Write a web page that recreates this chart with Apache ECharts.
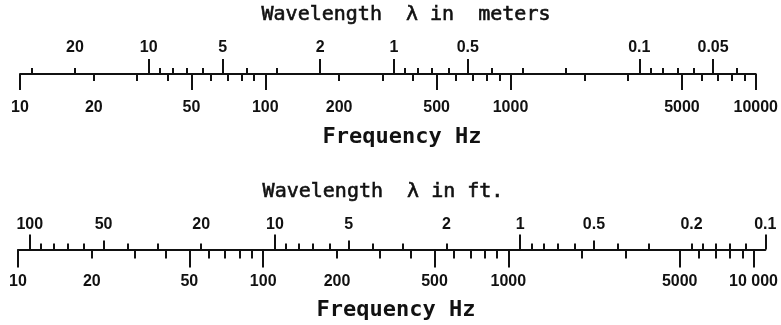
<!DOCTYPE html>
<html>
<head>
<meta charset="utf-8">
<script src="https://cdn.jsdelivr.net/npm/echarts@6/dist/echarts.min.js"></script>
<style>
  html, body { margin: 0; padding: 0; background: #fff; }
  #chart { width: 781px; height: 325px; }
</style>
</head>
<body>
<div id="chart"></div>
<script>
// Speed of sound used to convert frequency to wavelength
const SOUND_SPEED_M = 335;   // m/s
const SOUND_SPEED_FT = 1117; // ft/s

// Frequency scale in Hz (shared by both rulers)
const freqMin = 10;
const freqMaxMeters = 10000;
const freqMajorTicks = [10, 50, 100, 500, 1000, 5000, 10000];
const freqMinorTicks = [20, 30, 40, 60, 70, 80, 90, 200, 300, 400, 600, 700, 800, 900,
                        2000, 3000, 6000, 7000, 8000, 9000];
const freqLabelValues = [10, 20, 50, 100, 200, 500, 1000, 5000, 10000];
const freqLabelsMeters = ['10', '20', '50', '100', '200', '500', '1000', '5000', '10000'];
const freqLabelsFeet = ['10', '20', '50', '100', '200', '500', '1000', '5000', '10 000'];

// Wavelength in meters
const meterMajorTicks = [10, 5, 2, 1, 0.5, 0.1, 0.05];
const meterMinorTicks = [30, 20, 9, 8, 7, 6, 4, 3, 0.9, 0.8, 0.7, 0.6, 0.4, 0.3, 0.2,
                         0.09, 0.08, 0.07, 0.06, 0.04];
const meterLabels = [20, 10, 5, 2, 1, 0.5, 0.1, 0.05];

// Wavelength in feet
const feetTallTicks = [100, 10, 1, 0.1];
const feetMidTicks = [50, 5, 0.5];
const feetMinorTicks = [90, 80, 70, 60, 40, 30, 20, 9, 8, 7, 6, 4, 3, 2,
                        0.9, 0.8, 0.7, 0.6, 0.4, 0.3, 0.2, 0.18, 0.16, 0.14, 0.12];
const feetLabels = [100, 50, 20, 10, 5, 2, 1, 0.5, 0.2, 0.1];

// The feet ruler runs from 10 Hz up to the 0.1 ft wavelength
const freqMaxFeet = SOUND_SPEED_FT / 0.1;

const INK = '#111';
const LABEL_FONT = '"Liberation Sans", Arial, sans-serif';
const TITLE_FONT = '"DejaVu Sans Mono", monospace';

function lookup(values, texts) {
  return function (v) {
    for (let i = 0; i < values.length; i++) {
      if (Math.abs(v - values[i]) <= values[i] * 1e-6) return texts[i];
    }
    return '';
  };
}

// One logarithmic axis layer; all layers of a ruler share the bottom edge of its grid
function layer(grid, min, max, inverse, tick, label, line) {
  return {
    type: 'log', logBase: 10, gridIndex: grid, min: min, max: max, inverse: inverse,
    position: 'bottom',
    axisLine: { show: !!line, onZero: false, lineStyle: { color: INK, width: 2 } },
    axisTick: tick ? {
      show: true, inside: !!tick.inside, length: tick.length, customValues: tick.values,
      lineStyle: { color: INK, width: 2 }
    } : { show: false },
    axisLabel: label ? {
      show: true, inside: !!label.inside, margin: label.margin, customValues: label.values,
      formatter: lookup(label.values, label.texts),
      fontFamily: LABEL_FONT, fontSize: 16, fontWeight: 'bold', color: INK
    } : { show: false },
    splitLine: { show: false },
    minorTick: { show: false }
  };
}

const mMin = SOUND_SPEED_M / freqMaxMeters, mMax = SOUND_SPEED_M / freqMin;
const fMin = SOUND_SPEED_FT / freqMaxFeet, fMax = SOUND_SPEED_FT / freqMin;

const xAxes = [
  // meters ruler
  layer(0, freqMin, freqMaxMeters, false,
        { values: freqMajorTicks, length: 16 },
        { values: freqLabelValues, texts: freqLabelsMeters, margin: 26 }, true),
  layer(0, freqMin, freqMaxMeters, false, { values: freqMinorTicks, length: 7 }),
  layer(0, mMin, mMax, true,
        { values: meterMajorTicks, length: 15, inside: true },
        { values: meterLabels, texts: meterLabels.map(String), margin: 18, inside: true }),
  layer(0, mMin, mMax, true, { values: meterMinorTicks, length: 6, inside: true }),
  // feet ruler
  layer(1, freqMin, freqMaxFeet, false,
        { values: freqMajorTicks, length: 18 },
        { values: freqLabelValues, texts: freqLabelsFeet, margin: 24 }, true),
  layer(1, freqMin, freqMaxFeet, false, { values: freqMinorTicks, length: 9 }),
  layer(1, fMin, fMax, true,
        { values: feetTallTicks, length: 15, inside: true },
        { values: feetLabels, texts: feetLabels.map(String), margin: 17, inside: true }),
  layer(1, fMin, fMax, true, { values: feetMidTicks, length: 9, inside: true }),
  layer(1, fMin, fMax, true, { values: feetMinorTicks, length: 6, inside: true })
];

function caption(text, x, y, size, bold) {
  return {
    type: 'text', x: x, y: y, silent: true,
    style: {
      text: text, fill: INK, align: 'center', verticalAlign: 'middle',
      font: (bold ? 'bold ' : '') + size + 'px ' + TITLE_FONT,
      stroke: bold ? null : INK, lineWidth: bold ? 0 : 0.6
    }
  };
}

const chart = echarts.init(document.getElementById('chart'), null, { renderer: 'canvas' });
chart.setOption({
  animation: false,
  backgroundColor: '#fff',
  grid: [
    { left: 20, right: 25, top: 20, height: 54 },
    { left: 18, right: 13, top: 200, height: 49.5 }
  ],
  xAxis: xAxes,
  yAxis: [
    { gridIndex: 0, type: 'value', show: false },
    { gridIndex: 1, type: 'value', show: false }
  ],
  graphic: [
    caption('Wavelength  \u03bb in  meters', 406, 15, 20, false),
    caption('Frequency Hz', 402, 137, 22, true),
    caption('Wavelength  \u03bb in ft.', 383, 192, 20, false),
    caption('Frequency Hz', 396, 310, 22, true)
  ],
  series: []
});
</script>
</body>
</html>
